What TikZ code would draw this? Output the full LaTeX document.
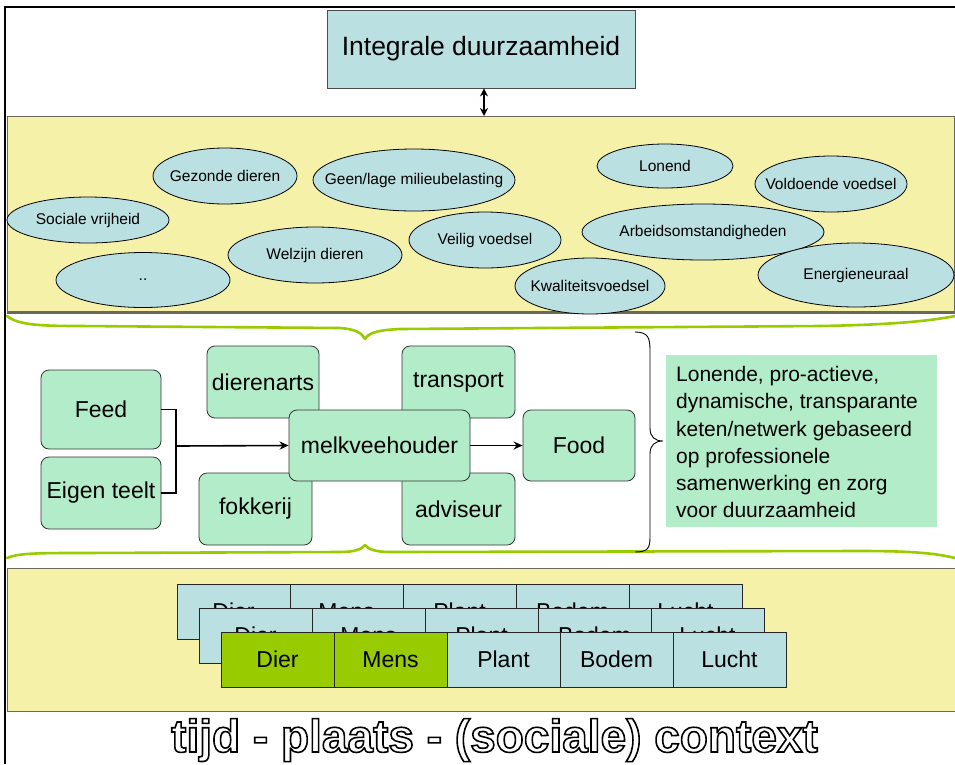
\documentclass[tikz,border=0pt]{standalone}
\usepackage{fontspec}
\setmainfont{Liberation Sans}
\usetikzlibrary{shapes.geometric,arrows.meta}
\definecolor{lblue}{RGB}{186,224,226}
\definecolor{pyellow}{RGB}{245,241,168}
\definecolor{lgreen}{RGB}{178,236,200}
\definecolor{bgreen}{RGB}{153,204,0}
\definecolor{pborder}{RGB}{105,105,90}
\newcommand{\outlinetext}[1]{\special{pdf:literal direct 1 Tr 1.6 w}#1\special{pdf:literal direct 0 Tr}}
\newcommand{\ov}[1]{\makebox[0pt]{#1}}
\begin{document}
\begin{tikzpicture}[x=1pt,y=-1pt,
  oval/.style={ellipse, draw=black, fill=lblue, line width=0.8pt, inner sep=0pt, font=\fontsize{15.5}{18}\selectfont},
  gbox/.style={rectangle, rounded corners=8pt, draw=black!80, fill=lgreen, line width=0.8pt, inner sep=0pt, font=\fontsize{23}{27}\selectfont},
  cell/.style={rectangle, draw=black!85, fill=lblue, line width=0.8pt, minimum width=113pt, minimum height=55pt, inner sep=0pt, font=\fontsize{23}{26}\selectfont},
  gcell/.style={cell, fill=bgreen},
  panel/.style={rectangle, draw=pborder, fill=pyellow, line width=1pt, inner sep=0pt},
  topbox/.style={rectangle, draw=black!70, fill=lblue, line width=0.8pt, inner sep=0pt, minimum width=308pt, minimum height=78pt, font=\fontsize{26.5}{30}\selectfont},
  conn/.style={draw=black, line width=1.6pt},
  gbrace/.style={draw=bgreen, line width=2.6pt, line join=round, line cap=round},
  kbrace/.style={draw=black, line width=0.9pt}
]
\useasboundingbox (0,0) rectangle (955,764);
\fill[white] (0,0) rectangle (955,764);
% frame
\draw[line width=2.6pt] (5,764) -- (5,7) -- (956,7);
% panels
\node[panel, minimum width=947pt, minimum height=196pt] (panel1) at (480.5,214) {};
\draw[pborder, line width=2.6pt] (panel1.south west) -- (panel1.south east);
\node[panel, minimum width=950pt, minimum height=143pt] (panel2) at (482,639.5) {};
% top box
\node[topbox] (top) at (481,49) {Integrale duurzaamheid};
\draw[conn, line width=2pt, {Stealth[length=8pt,width=8pt]}-{Stealth[length=8pt,width=8pt]}] (top.south -| 484,0) -- (484,116);
% ellipses
\node[oval, minimum width=144pt, minimum height=56pt] (e1) at (225,176) {\ov{Gezonde dieren}};
\node[oval, minimum width=162pt, minimum height=46pt] (e2) at (88,220) {\ov{Sociale vrijheid}};
\node[oval, minimum width=174pt, minimum height=55pt] (e3) at (143,280) {\ov{..}};
\node[oval, minimum width=174pt, minimum height=56pt] (e4) at (315,255) {\ov{Welzijn dieren}};
\node[oval, minimum width=202pt, minimum height=62pt] (e5) at (414,180) {\ov{Geen/lage milieubelasting}};
\node[oval, minimum width=152pt, minimum height=56pt] (e6) at (485,240) {\ov{Veilig voedsel}};
\node[oval, minimum width=136pt, minimum height=44pt] (e7) at (665,166) {\ov{Lonend}};
\node[oval, minimum width=152pt, minimum height=56pt] (e8) at (831,184) {\ov{Voldoende voedsel}};
\node[oval, minimum width=242pt, minimum height=56pt] (e9) at (703,232) {\ov{Arbeidsomstandigheden}};
\node[oval, minimum width=150pt, minimum height=56pt] (e10) at (590,286) {\ov{Kwaliteitsvoedsel}};
\node[oval, minimum width=196pt, minimum height=64pt] (e11) at (856,275) {\ov{Energieneuraal}};
% green braces
\draw[gbrace] (7,316) .. controls (18,325) and (40,326) .. (80,326) -- (340,328)
  .. controls (355,329) and (362,333) .. (365,339)
  .. controls (369,332) and (380,330) .. (400,329) -- (820,326)
  .. controls (880,325) and (925,322) .. (955,316);
\draw[gbrace] (7,558) .. controls (18,553) and (40,553) .. (80,553) -- (340,552)
  .. controls (355,552) and (362,549) .. (365,545)
  .. controls (368,549) and (375,552) .. (390,552) -- (860,551)
  .. controls (910,551) and (935,553) .. (955,558);
% chain boxes
\node[gbox, minimum width=112pt, minimum height=72pt] (dier) at (263,382) {dierenarts};
\node[gbox, minimum width=113pt, minimum height=72pt] (trans) at (458.5,382) {transport};
\node[gbox, minimum width=113pt, minimum height=72pt] (fok) at (255.5,509) {fokkerij};
\node[gbox, minimum width=113pt, minimum height=72pt] (adv) at (458.5,509) {adviseur};
\node[gbox, minimum width=181pt, minimum height=71pt] (melk) at (379.5,445.5) {melkveehouder};
\node[gbox, minimum width=112pt, minimum height=71pt] (food) at (579,445.5) {Food};
\node[gbox, minimum width=120pt, minimum height=79pt] (feed) at (101,409.5) {Feed};
\node[gbox, minimum width=120pt, minimum height=72pt] (eigen) at (101,493) {Eigen teelt};
\coordinate (j) at (176,446);
\draw[conn] (feed.east) -| (j);
\draw[conn] (eigen.east) -| (j);
\draw[conn, -{Stealth[length=9pt,width=8pt]}] (j) -- (melk.west);
\draw[conn, -{Stealth[length=9pt,width=8pt]}] (melk.east) -- (food.west);
% right brace
\draw[kbrace] (635,332) .. controls (648,332) and (650,338) .. (650,350) -- (650,428)
  .. controls (650,437) and (655,441) .. (663,441)
  .. controls (655,441) and (650,445) .. (650,454) -- (650,537)
  .. controls (650,548) and (648,552) .. (635,552);
% text box
\node[rectangle, fill=lgreen, minimum width=271pt, minimum height=172pt, inner sep=0pt] (tbox) at (801.5,441) {};
\node[anchor=north west, align=left, inner sep=0pt, font=\fontsize{21}{27.3}\selectfont] (ttext) at (676,366)
  {Lonende, pro-actieve,\\dynamische, transparante\\keten/netwerk gebaseerd\\op professionele\\samenwerking en zorg\\voor duurzaamheid};
% layer cells
\foreach \t [count=\i from 0] in {Dier,Mens,Plant,Bodem,Lucht}
  \node[cell] (a\i) at (233.5+113*\i,611.5) {\t};
\foreach \t [count=\i from 0] in {Dier,Mens,Plant,Bodem,Lucht}
  \node[cell] (b\i) at (255.5+113*\i,635.5) {\t};
\node[gcell] (c0) at (277.5,659.5) {Dier};
\node[gcell] (c1) at (390.5,659.5) {Mens};
\node[cell] (c2) at (503.5,659.5) {Plant};
\node[cell] (c3) at (616.5,659.5) {Bodem};
\node[cell] (c4) at (729.5,659.5) {Lucht};
% context text
\node[anchor=base, inner sep=0pt, font=\fontsize{46}{50}\bfseries\selectfont] (ctx) at (494.5,752)
  {\outlinetext{tijd - plaats - (sociale) context}};
\end{tikzpicture}
\end{document}
